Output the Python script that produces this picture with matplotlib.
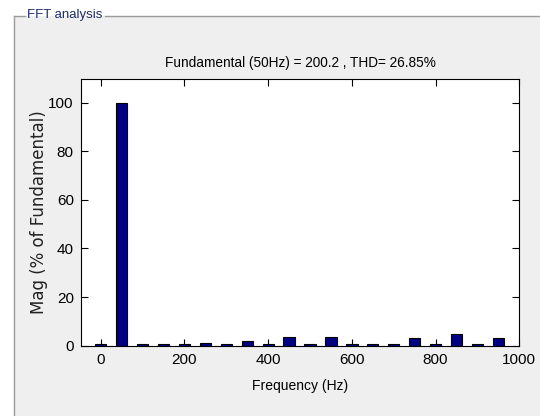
import numpy as np
import matplotlib
matplotlib.use('Agg')
import matplotlib.pyplot as plt
from matplotlib import font_manager
from matplotlib.patches import Rectangle
from matplotlib.lines import Line2D

# harmonic spectrum
freqs = [0, 50, 100, 150, 200, 250, 300, 350, 400, 450,
         500, 550, 600, 650, 700, 750, 800, 850, 900, 950]
mags = [0.8, 100, 0.6, 0.6, 0.6, 1.2, 0.6, 1.8, 0.6, 3.4,
        0.6, 3.5, 0.6, 0.6, 0.6, 3.0, 0.6, 4.8, 0.6, 3.0]
xticks = [0, 200, 400, 600, 800, 1000]
yticks = [0, 20, 40, 60, 80, 100]
title_txt = 'Fundamental (50Hz) = 200.2 , THD= 26.85%'
panel_txt = 'FFT analysis'

# matlab uses a narrow sans for the axes text
names = set(f.name for f in font_manager.fontManager.ttflist)
narrow = 'Liberation Sans Narrow' if 'Liberation Sans Narrow' in names else 'Liberation Sans'
plt.rcParams['font.family'] = [narrow, 'DejaVu Sans']

W, H = 540, 416
fig = plt.figure(figsize=(W / 100, H / 100), dpi=100)
fig.patch.set_facecolor('white')

# gray group panel
bg = '#efefef'
fig.patches.append(Rectangle((14 / W, 0), 1, 1 - 16 / H, transform=fig.transFigure,
                             facecolor=bg, edgecolor='none', zorder=-5))
lc = '#9a9a9a'
fig.add_artist(Line2D([14 / W, 14 / W], [0, 1 - 16 / H], color=lc, lw=1))
fig.add_artist(Line2D([14 / W, 25 / W], [1 - 16 / H] * 2, color=lc, lw=1))
fig.add_artist(Line2D([105 / W, 1], [1 - 16 / H] * 2, color=lc, lw=1))
fig.text(27 / W, 1 - 15 / H, panel_txt, color='#1f2a6a', fontsize=9.5,
         va='center', ha='left')

ax = fig.add_axes([80.7 / W, 1 - 345.7 / H, (519.3 - 80.7) / W, (345.7 - 79) / H])
ax.set_zorder(5)
ax.set_facecolor('white')
ax.bar(freqs, mags, width=27, color='#000080', edgecolor='black', linewidth=0.8, zorder=2)
ax.set_xlim(-48, 1000)
ax.set_ylim(0, 109.7)
ax.set_xticks(xticks)
ax.set_yticks(yticks)
ax.tick_params(direction='in', length=5, width=0.8, top=True, right=True,
               labelsize=11, pad=5)
for s in ax.spines.values():
    s.set_linewidth(0.8)
ax.set_title(title_txt, fontsize=9.8, pad=9)
ax.set_xlabel('Frequency (Hz)', fontsize=10, labelpad=9)
ax.set_ylabel('Mag (% of Fundamental)', fontsize=12, family='DejaVu Sans',
              color='#222222', labelpad=0)

fig.savefig('out.png', dpi=100, facecolor=fig.get_facecolor())
